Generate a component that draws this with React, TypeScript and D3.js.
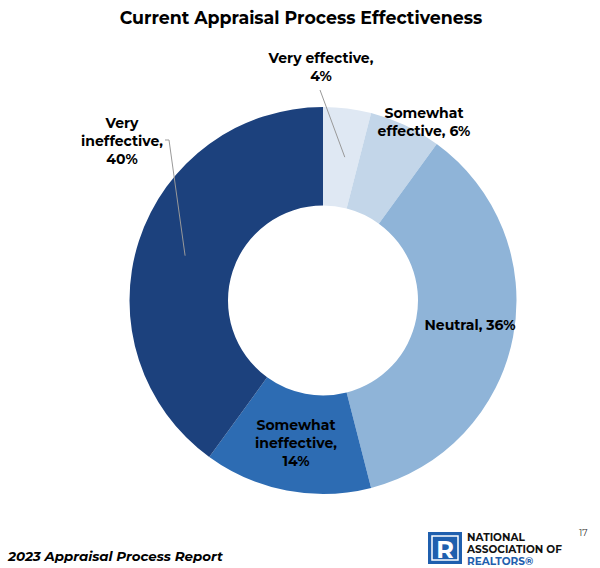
import React from "react";
import * as d3 from "d3";

const categories = ["Very effective", "Somewhat effective", "Neutral", "Somewhat ineffective", "Very ineffective"];
const values = [4, 6, 36, 14, 40];
const colors = ["#dfe8f3", "#c3d6e9", "#8fb4d8", "#2d6cb3", "#1c417d"];
const labelLines = [
  ["Very effective,", "4%"],
  ["Somewhat", "effective, 6%"],
  ["Neutral, 36%"],
  ["Somewhat", "ineffective,", "14%"],
  ["Very", "ineffective,", "40%"],
];
const title = "Current Appraisal Process Effectiveness";
const footer = "2023 Appraisal Process Report";

const FONT = "Montserrat, 'DejaVu Sans', sans-serif";

export default function App() {
  const W = 600, H = 568;
  const cx = 323, cy = 300.5, R = 193.5, r0 = 95;
  const pie = d3.pie<number>().sort(null).value((d) => d)(values);
  const arc = d3.arc<d3.PieArcDatum<number>>().innerRadius(r0).outerRadius(R);

  const labelPos = [
    { x: 321, y: 58 },
    { x: 424, y: 113 },
    { x: 470, y: 325 },
    { x: 296, y: 425 },
    { x: 122, y: 123 },
  ];

  const lineH = 17.8;
  const ptOnArc = (i: number, rr: number, frac = 0.5) => {
    const a = pie[i];
    const ang = a.startAngle + (a.endAngle - a.startAngle) * frac;
    return [cx + rr * Math.sin(ang), cy - rr * Math.cos(ang)];
  };
  const p0 = ptOnArc(0, 145, 0.6);
  const p4 = ptOnArc(4, 145, 0.5);

  return (
    <svg width={W} height={H} style={{ display: "block", position: "absolute", left: 0, top: 0 }}>
      <rect width={W} height={H} fill="#ffffff" />
      <text x={301} y={24} textAnchor="middle" fontFamily={FONT} fontWeight={700} fontSize={17.4} fill="#000">
        {title}
      </text>
      <g transform={`translate(${cx},${cy})`}>
        {pie.map((d, i) => (
          <path key={categories[i]} d={arc(d) || ""} fill={colors[i]} />
        ))}
      </g>
      <line x1={320} y1={90} x2={p0[0]} y2={p0[1]} stroke="#999" strokeWidth={1} />
      <polyline points={`165,140 169,140 ${p4[0]},${p4[1]}`} fill="none" stroke="#999" strokeWidth={1} />
      {labelLines.map((lines, i) => {
        const p = labelPos[i];
        return (
          <text key={i} textAnchor="middle" fontFamily={FONT} fontWeight={700} fontSize={14} fill="#000">
            {lines.map((l, j) => (
              <tspan key={j} x={p.x} y={p.y + j * lineH + 5}>
                {l}
              </tspan>
            ))}
          </text>
        );
      })}
      <text x={8} y={561} fontFamily={FONT} fontWeight={700} fontStyle="italic" fontSize={13.4} fill="#000">
        {footer}
      </text>
      <g>
        <rect x={428} y={532} width={34} height={32} fill="#1f5fae" />
        <rect x={432} y={536} width={26} height={24} fill="none" stroke="#fff" strokeWidth={1.5} />
        <text x={445} y={558} textAnchor="middle" fontFamily={FONT} fontWeight={700} fontSize={24} fill="#fff">
          R
        </text>
        <text fontFamily={FONT} fontWeight={700} fontSize={10.5} fill="#111">
          <tspan x={467} y={541}>NATIONAL</tspan>
          <tspan x={467} y={553}>ASSOCIATION OF</tspan>
        </text>
        <text x={467} y={565} fontFamily={FONT} fontWeight={700} fontSize={10.5} fill="#1f5fae">
          REALTORS®
        </text>
        <text x={579} y={536} fontFamily={FONT} fontSize={9} fill="#333">17</text>
      </g>
    </svg>
  );
}
